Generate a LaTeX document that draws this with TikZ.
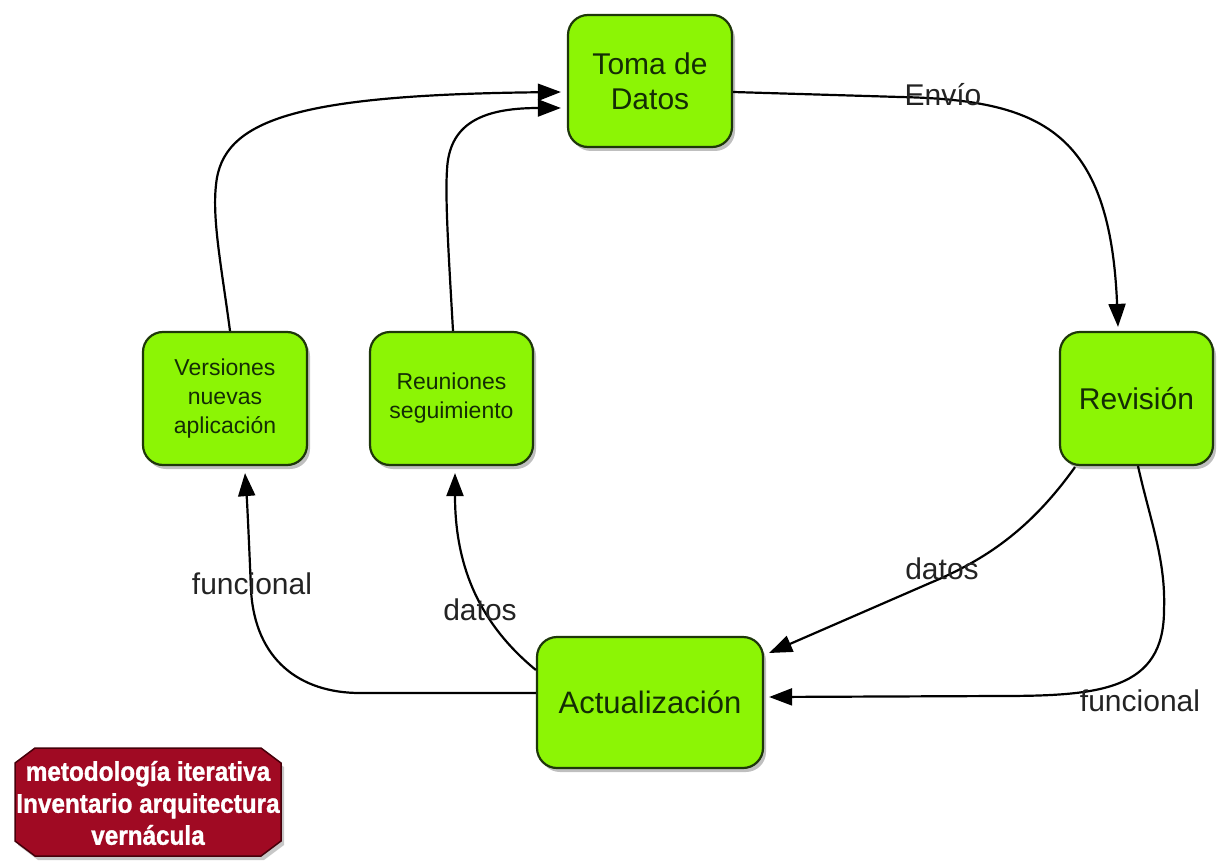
\documentclass[tikz,border=0pt]{standalone}
\usepackage{fontspec}
\setmainfont{Liberation Sans}
\newfontfamily\octfont{Liberation Sans}[FakeStretch=0.9,FakeBold=1.2]
\usetikzlibrary{arrows.meta,calc,shadows}
\definecolor{boxgreen}{RGB}{140,245,5}
\definecolor{boxedge}{RGB}{30,55,10}
\definecolor{boxtext}{RGB}{20,45,5}
\definecolor{octred}{RGB}{160,10,35}
\definecolor{octedge}{RGB}{70,0,10}
\definecolor{labeltext}{RGB}{35,35,35}
\tikzset{
  box/.style={draw=boxedge, line width=2.2pt, fill=boxgreen, rounded corners=20pt,
    inner sep=0pt, align=center, text=boxtext,
    drop shadow={shadow xshift=3pt, shadow yshift=-4pt, opacity=0.25, fill=black}},
  bigtext/.style={font=\fontsize{30}{35}\selectfont},
  smalltext/.style={font=\fontsize{23}{29}\selectfont},
  conn/.style={line width=2.2pt, draw=black, -{Triangle[length=23pt,width=17pt]}},
  lbl/.style={font=\fontsize{30}{36}\selectfont, text=labeltext, inner sep=0pt},
  octshape/.style={fill=octred, draw=octedge, line width=1.5pt},
}
\begin{document}
\begin{tikzpicture}[x=1pt,y=-1pt]
\path[use as bounding box] (0,0) rectangle (1217,861);

% nodes
\node[box, bigtext, minimum width=164pt, minimum height=132pt] (toma) at (650,81) {Toma de\\Datos};
\node[box, bigtext, minimum width=153pt, minimum height=133pt] (revision) at (1136.5,398.5) {Revisión};
\node[box, smalltext, minimum width=164pt, minimum height=133pt] (versiones) at (225,398.5) {Versiones\\nuevas\\aplicación};
\node[box, smalltext, minimum width=163pt, minimum height=133pt] (reuniones) at (451.5,398.5) {Reuniones\\seguimiento};
\node[box, font=\fontsize{31}{36}\selectfont, minimum width=226pt, minimum height=131pt] (actualizacion) at (650,702.5) {Actualización};

% title octagon
\fill[black, opacity=0.22] (18,767) -- (38,752) -- (264,752) -- (284,767) -- (284,845) -- (264,860) -- (38,860) -- (18,845) -- cycle;
\draw[octshape] (15,763) -- (35,748) -- (261,748) -- (281,763) -- (281,841) -- (261,856) -- (35,856) -- (15,841) -- cycle;
\node[inner sep=0pt, text=white, align=center,
  font=\octfont\bfseries\fontsize{27}{32}\selectfont] (titulo) at (148,803)
  {metodología iterativa\\Inventario arquitectura\\vernácula};

% connectors
\draw[conn] ($(toma.east)+(0,11)$) -- (900,97)
  .. controls (1040,100) and (1110,130) .. ($(revision.north)+(-18.5,-4)$);
\draw[conn] ($(versiones.north)+(5,0)$) .. controls (222,270) and (212,220) .. (216,185)
  .. controls (222,120) and (295,95) .. ($(toma.west)+(-6,11)$);
\draw[conn] ($(reuniones.north)+(1.5,0)$) .. controls (449,260) and (445,200) .. (447,170)
  .. controls (449,125) and (480,108) .. ($(toma.west)+(-6,27)$);
\draw[conn] ($(actualizacion.west)+(0,-9.5)$) -- (360,693)
  .. controls (300,693) and (255,660) .. (251,590)
  .. controls (249,540) and (247,500) .. ($(versiones.south)+(20,7)$);
\draw[conn] ($(actualizacion.west)+(0,-32.5)$) .. controls (475,620) and (455,560) .. ($(reuniones.south)+(3.5,7)$);
\draw[conn] ($(revision.south)+(-61.5,1)$) .. controls (1030,530) and (985,560) .. (930,583)
  -- ($(actualizacion.east)+(5,-49.5)$);
\draw[conn] ($(revision.south)+(1.5,0)$) .. controls (1150,520) and (1166,560) .. (1164,610)
  .. controls (1164,690) and (1100,696) .. (1000,696) -- ($(actualizacion.east)+(5,-5.5)$);

% labels
\node[lbl] (lenvio) at (943,95) {Envío};
\node[lbl] (lfunc1) at (252,584) {funcional};
\node[lbl] (ldatos1) at (480,610) {datos};
\node[lbl] (ldatos2) at (942,569) {datos};
\node[lbl] (lfunc2) at (1140,701) {funcional};
\end{tikzpicture}
\end{document}
